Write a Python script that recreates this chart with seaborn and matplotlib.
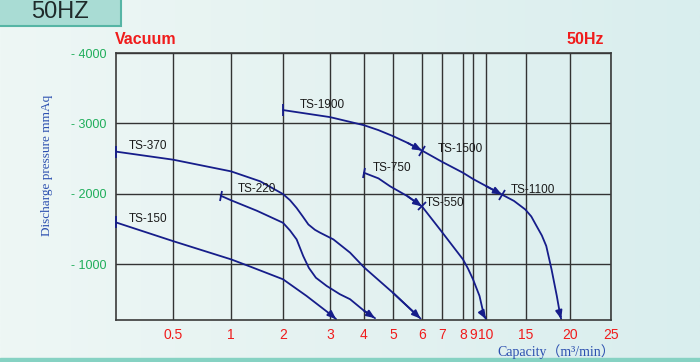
import numpy as np
import pandas as pd
import matplotlib
matplotlib.use("Agg")
import matplotlib.pyplot as plt
import seaborn as sns
from matplotlib.markers import MarkerStyle
from matplotlib.transforms import Affine2D
from matplotlib.patches import Rectangle
from matplotlib.colors import LinearSegmentedColormap

# ---------------- data ----------------
capacity_ticks = [0.5, 1, 2, 3, 4, 5, 6, 7, 8, 9, 10, 15, 20, 25]
capacity_labels = ["0.5", "1", "2", "3", "4", "5", "6", "7", "8", "9", "10", "15", "20", "25"]
pressure_ticks = [1000, 2000, 3000, 4000]
pressure_labels = ["- 1000", "- 2000", "- 3000", "- 4000"]

ts150_cap = [0, 0.5, 1.0, 1.37, 2.0, 2.5, 3.07, 3.18]
ts150_p = [1595, 1330, 1071, 968, 788, 552, 269, 222]

ts220_cap = [0.91, 1.0, 1.5, 2.0, 2.15, 2.29, 2.43, 2.55, 2.7, 2.93, 3.29, 3.59, 4.0, 4.38]
ts220_p = [1975, 1910, 1760, 1590, 1480, 1354, 1118, 950, 810, 693, 576, 505, 342, 236]

ts370_cap = [0, 0.5, 1.0, 1.56, 2.0, 2.15, 2.29, 2.42, 2.54, 2.68, 2.79, 3.1, 3.59, 4.0, 5.0, 5.95]
ts370_p = [2600, 2486, 2320, 2179, 1998, 1910, 1800, 1680, 1566, 1490, 1449, 1354, 1166, 958, 596, 230]

ts1900_cap = [2.0, 3.0, 4.0, 4.5, 5.0, 5.5, 6.0]
ts1900_p = [3190, 3090, 2975, 2905, 2820, 2725, 2615]

ts1500_cap = [6.0, 7.0, 8.0, 9.0, 10.0, 12.0]
ts1500_p = [2615, 2456, 2300, 2212, 2112, 1990]

ts1100_cap = [12.0, 13.5, 14.9, 15.6, 16.2, 16.8, 17.3, 17.9, 18.5, 18.9, 19.0]
ts1100_p = [1990, 1900, 1780, 1680, 1544, 1410, 1261, 930, 552, 269, 222]

ts750_cap = [4.0, 4.5, 4.9, 5.5, 6.0]
ts750_p = [2300, 2220, 2108, 1967, 1822]

ts550_cap = [6.0, 6.9, 8.0, 8.5, 9.0, 9.5, 9.85, 10.0]
ts550_p = [1822, 1495, 1070, 940, 788, 552, 269, 222]

# non-uniform capacity axis: breakpoints of the printed chart scale
scale_cap = [0, 0.5, 1, 2, 3, 4, 5, 6, 7, 8, 9, 10, 15, 20, 25]
scale_pos = [0, 57, 115, 167, 214, 248, 277, 306, 326, 347, 357, 370, 410, 454, 495]

NAVY = "#161d8a"
BLUE_TXT = "#2c50b0"
RED = "#f01c1c"
GREEN = "#1fae5a"

sns.set_style("white")
plt.rcParams["font.family"] = ["Liberation Sans", "DejaVu Sans"]

fig = plt.figure(figsize=(7.0, 3.62), dpi=100)

# background
bg = fig.add_axes([0, 0, 1, 1], zorder=-10)
grad = np.linspace(0, 1, 256)[None, :]
cm = LinearSegmentedColormap.from_list("bgc", ["#eef7f5", "#e4f2f1", "#d9eeee"])
bg.imshow(grad, aspect="auto", cmap=cm, extent=[0, 1, 0, 1])
bg.add_patch(Rectangle((0, 0), 1, 4 / 362, color="#86d2c3", transform=bg.transAxes))
bg.add_patch(Rectangle((-0.01, 1 - 26 / 362), 128 / 700, 0.2, facecolor="#a9dcd4",
                       edgecolor="#56b5a5", lw=1.5, transform=bg.transAxes))
bg.text(60 / 700, 1 - 12 / 362, "50HZ", fontsize=17, color="#1f2a2a",
        ha="center", va="center", transform=bg.transAxes)
bg.set_xlim(0, 1)
bg.set_ylim(0, 1)
bg.axis("off")

ax = fig.add_axes([116 / 700, 1 - 320 / 362, 495 / 700, 267 / 362])
ax.set_facecolor("none")


def fwd(x):
    return np.interp(x, scale_cap, scale_pos)


def inv(p):
    return np.interp(p, scale_pos, scale_cap)


curves = [
    ("TS-150", ts150_cap, ts150_p, 0),
    ("TS-220", ts220_cap, ts220_p, -10),
    ("TS-370", ts370_cap, ts370_p, 0),
    ("TS-1900", ts1900_cap, ts1900_p, -5),
    ("TS-1500", ts1500_cap, ts1500_p, -35),
    ("TS-1100", ts1100_cap, ts1100_p, -35),
    ("TS-750", ts750_cap, ts750_p, -15),
    ("TS-550", ts550_cap, ts550_p, -40),
]

for name, cap, p, rot in curves:
    df = pd.DataFrame({"cap": cap, "p": p})
    sns.lineplot(data=df, x="cap", y="p", sort=False, estimator=None,
                 color=NAVY, lw=1.3, ax=ax)

ax.set_xscale("function", functions=(fwd, inv))
ax.set_xlim(0, 25)
ax.set_ylim(210, 4000)

for name, cap, p, rot in curves:
    ms = MarkerStyle("|", transform=Affine2D().rotate_deg(rot))
    ax.plot([cap[0]], [p[0]], marker=ms, ms=8, mew=1.3, color=NAVY, ls="none",
            clip_on=False, zorder=5)
    ax.annotate("", xy=(cap[-1], p[-1]), xytext=(cap[-2], p[-2]),
                arrowprops=dict(arrowstyle="-|>,head_length=0.5,head_width=0.2",
                                color=NAVY, lw=1.3, shrinkA=0, shrinkB=0))

label_pos = {
    "TS-370": (0.11, 2674), "TS-220": (1.13, 2071), "TS-150": (0.11, 1647),
    "TS-1900": (2.36, 3264), "TS-1500": (6.8, 2642), "TS-750": (4.3, 2373),
    "TS-550": (6.2, 1877), "TS-1100": (13.1, 2061),
}
for name, (lx, ly) in label_pos.items():
    ax.text(lx, ly, name, fontsize=8.5, color="#1a1a1a", ha="left", va="center")

ax.set_xticks(capacity_ticks)
ax.set_xticklabels(capacity_labels)
ax.set_yticks(pressure_ticks)
ax.set_yticklabels(pressure_labels)
ax.tick_params(axis="x", length=0, pad=6, labelsize=10, labelcolor=RED)
ax.tick_params(axis="y", length=0, pad=7, labelsize=9, labelcolor=GREEN)
ax.grid(True, color="#333333", lw=1.0)
for s in ax.spines.values():
    s.set_color("#3a3a3a")
    s.set_linewidth(1.2)
ax.set_xlabel("")
ax.set_ylabel("")

fig.text(115 / 700, 1 - 40 / 362, "Vacuum", fontsize=11.5, fontweight="bold",
         color=RED, ha="left", va="center")
fig.text(604 / 700, 1 - 40 / 362, "50Hz", fontsize=11.5, fontweight="bold",
         color=RED, ha="right", va="center")
fig.text(47 / 700, 1 - 165 / 362, "Discharge pressure mmAq", rotation=90,
         fontsize=9.5, color=BLUE_TXT, ha="center", va="center",
         family=["Liberation Serif", "DejaVu Serif"])
fig.text(615 / 700, 1 - 352 / 362, "Capacity（m³/min）", fontsize=10,
         color=BLUE_TXT, ha="right", va="center",
         family=["Liberation Serif", "Noto Sans CJK SC", "DejaVu Sans"])

fig.savefig("out.png", dpi=100)
